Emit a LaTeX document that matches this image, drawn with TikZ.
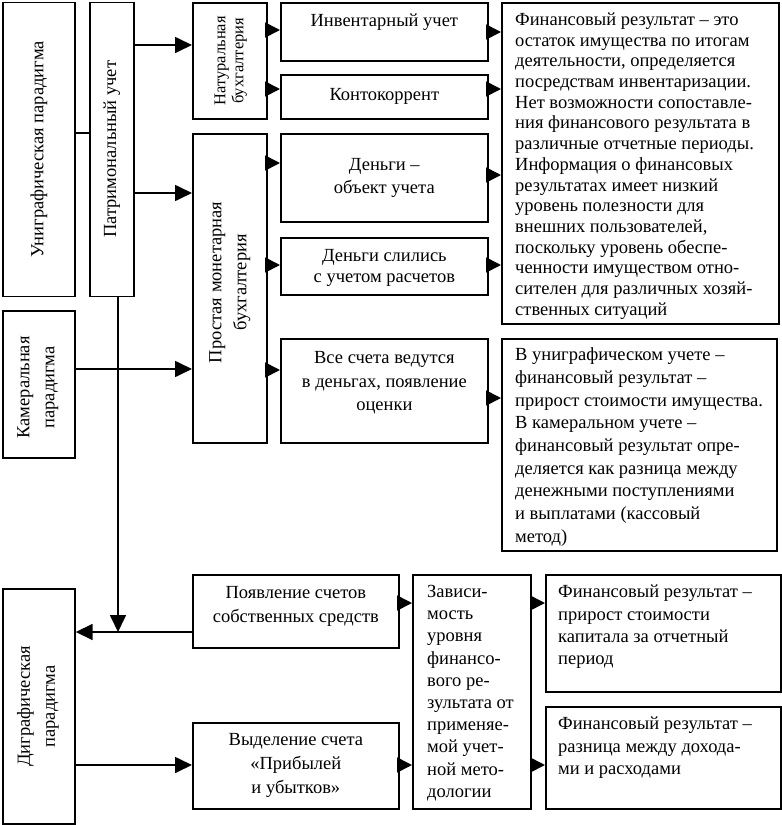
\documentclass[tikz,border=0pt]{standalone}
\usepackage{fontspec}
\setmainfont{Liberation Serif}
\usetikzlibrary{arrows.meta}
\begin{document}
\begin{tikzpicture}[x=1pt,y=-1pt,
  box/.style={draw, line width=1.7pt, inner sep=0pt, anchor=north west},
  txt/.style={inner sep=0pt, font=\fontsize{18.5}{22.5}\selectfont, align=center},
  ltxt/.style={inner sep=0pt, anchor=west, align=left},
  rtxt/.style={inner sep=0pt, rotate=90, align=center, font=\fontsize{18.5}{25}\selectfont},
  conn/.style={line width=1.7pt},
  arr/.style={line width=1.7pt, -{Triangle[length=15pt,width=15pt]}},
  bigarr/.style={line width=1.7pt, -{Triangle[length=17pt,width=16pt]}}]
\useasboundingbox (0,0) rectangle (782,825);

% boxes
\node[box, minimum width=72pt, minimum height=294pt] (uni) at (2,1.5) {};
\node[box, minimum width=44pt, minimum height=294pt] (patr) at (89,1.5) {};
\node[box, minimum width=74pt, minimum height=116pt] (nat) at (192,2) {};
\node[box, minimum width=74pt, minimum height=309pt] (prost) at (192,133) {};
\node[box, minimum width=72pt, minimum height=147pt] (kam) at (2,310) {};
\node[box, minimum width=207pt, minimum height=58pt] (inv) at (280,2) {};
\node[box, minimum width=207pt, minimum height=44pt] (kont) at (280,74) {};
\node[box, minimum width=207pt, minimum height=88pt] (den) at (280,133) {};
\node[box, minimum width=207pt, minimum height=57pt] (sli) at (280,237) {};
\node[box, minimum width=277pt, minimum height=321pt] (big1) at (501,2) {};
\node[box, minimum width=207pt, minimum height=104pt] (vse) at (280,338) {};
\node[box, minimum width=275pt, minimum height=212pt] (big2) at (501,338) {};
\node[box, minimum width=72pt, minimum height=235pt] (dig) at (2,588) {};
\node[box, minimum width=206pt, minimum height=73pt] (pojav) at (192,574) {};
\node[box, minimum width=206pt, minimum height=86pt] (vyd) at (192,722) {};
\node[box, minimum width=118pt, minimum height=234pt] (zav) at (412,574) {};
\node[box, minimum width=235pt, minimum height=117pt] (fr1) at (545,574) {};
\node[box, minimum width=235pt, minimum height=102pt] (fr2) at (545,706) {};

% rotated texts
\node[rtxt] (tuni) at (uni.center) {Униграфическая парадигма};
\node[rtxt] (tpatr) at (patr.center) {Патримональный учет};
\node[rtxt, font=\fontsize{16.5}{18}\selectfont] (tnat) at ([xshift=1pt]nat.center) {Натуральная\\бухгалтерия};
\node[rtxt] (tprost) at ([yshift=6pt]prost.center) {Простая монетарная\\бухгалтерия};
\node[rtxt] (tkam) at ([xshift=-1pt,yshift=-3pt]kam.center) {Камеральная\\парадигма};
\node[rtxt] (tdig) at ([xshift=-1pt]dig.center) {Диграфическая\\парадигма};

% centered texts
\node[txt] (tinv) at ([yshift=10pt]inv.center) {Инвентарный учет};
\node[txt] (tkont) at (kont.center) {Контокоррент};
\node[txt] (tden) at (den.center) {Деньги –\\объект учета};
\node[txt, font=\fontsize{18.5}{21}\selectfont] (tsli) at ([yshift=-2pt]sli.center) {Деньги слились\\с учетом расчетов};
\node[txt, font=\fontsize{18.5}{23.5}\selectfont] (tvse) at ([yshift=8pt]vse.center) {Все счета ведутся\\в деньгах, появление\\оценки};
\node[txt, font=\fontsize{18.5}{24}\selectfont] (tpojav) at ([yshift=5pt]pojav.center) {Появление счетов\\собственных средств};
\node[txt, font=\fontsize{18.5}{24}\selectfont] (tvyd) at (vyd.center) {Выделение счета\\«Прибылей\\и убытков»};

% left-aligned texts
\node[ltxt, font=\fontsize{18.5}{20.7}\selectfont] (tbig1) at (515,166) {Финансовый результат – это\\остаток имущества по итогам\\деятельности, определяется\\посредствам инвентаризации.\\Нет возможности сопоставле-\\ния финансового результата в\\различные отчетные периоды.\\Информация о финансовых\\результатах имеет низкий\\уровень полезности для\\внешних пользователей,\\поскольку уровень обеспе-\\ченности имуществом отно-\\сителен для различных хозяй-\\ственных ситуаций};
\node[ltxt, font=\fontsize{18.5}{22.7}\selectfont] (tbig2) at (515,447) {В униграфическом учете –\\финансовый результат –\\прирост стоимости имущества.\\В камеральном учете –\\финансовый результат опре-\\деляется как разница между\\денежными поступлениями\\и выплатами (кассовый\\метод)};
\node[ltxt, font=\fontsize{18.5}{22.2}\selectfont] (tzav) at (427,693) {Зависи-\\мость\\уровня\\финансо-\\вого ре-\\зультата от\\применяе-\\мой учет-\\ной мето-\\дологии};
\node[ltxt, font=\fontsize{18.5}{22.3}\selectfont] (tfr1) at (558,627) {Финансовый результат –\\прирост стоимости\\капитала за отчетный\\период};
\node[ltxt, font=\fontsize{18.5}{22.5}\selectfont] (tfr2) at (558,748) {Финансовый результат –\\разница между дохода-\\ми и расходами};

% connectors
\coordinate (j) at (118,632);
\draw[conn] (uni.east |- 0,133) -- (patr.west |- 0,133);
\draw[bigarr] (patr.east |- 0,45) -- (nat.west |- 0,45);
\draw[bigarr] (patr.east |- 0,193) -- (prost.west |- 0,193);
\draw[bigarr] (kam.east |- 0,369) -- (prost.west |- 0,369);
\draw[bigarr] (patr.south -| j) -- (j);
\draw[bigarr] (pojav.west |- j) -- (dig.east |- j);
\draw[bigarr] (dig.east |- 0,765) -- (vyd.west |- 0,765);

\draw[arr] (nat.east |- 0,30) -- (inv.west |- 0,30);
\draw[arr] (nat.east |- 0,89) -- (kont.west |- 0,89);
\draw[arr] (prost.east |- 0,163) -- (den.west |- 0,163);
\draw[arr] (prost.east |- 0,265) -- (sli.west |- 0,265);
\draw[arr] (prost.east |- 0,370) -- (vse.west |- 0,370);

\draw[arr] (inv.east |- 0,32) -- (big1.west |- 0,32);
\draw[arr] (kont.east |- 0,89) -- (big1.west |- 0,89);
\draw[arr] (den.east |- 0,175) -- (big1.west |- 0,175);
\draw[arr] (sli.east |- 0,265) -- (big1.west |- 0,265);
\draw[arr] (vse.east |- 0,398) -- (big2.west |- 0,398);

\draw[arr] (pojav.east |- 0,603) -- (zav.west |- 0,603);
\draw[arr] (vyd.east |- 0,765) -- (zav.west |- 0,765);
\draw[arr] (zav.east |- 0,603) -- (fr1.west |- 0,603);
\draw[arr] (zav.east |- 0,765) -- (fr2.west |- 0,765);
\end{tikzpicture}
\end{document}
